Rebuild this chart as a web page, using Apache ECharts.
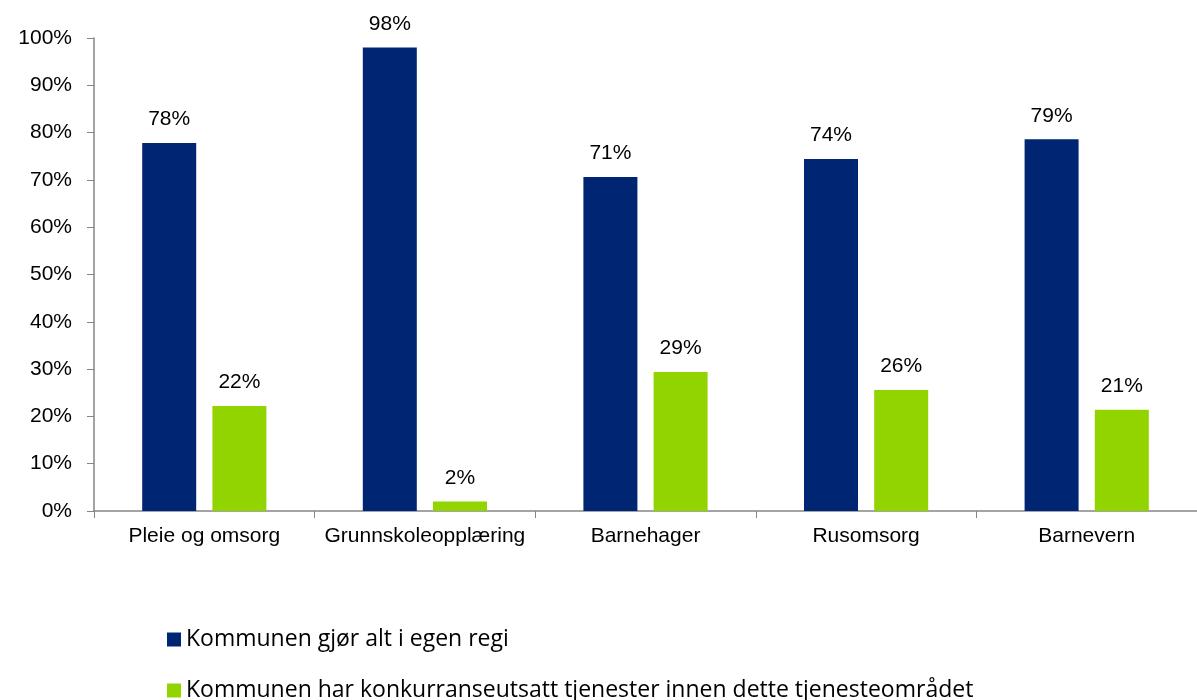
<!DOCTYPE html>
<html>
<head>
<meta charset="utf-8">
<script src="https://cdn.jsdelivr.net/npm/echarts@6/dist/echarts.min.js"></script>
<style>
  html, body { margin: 0; padding: 0; background: #fff; }
  #chart { width: 1197px; height: 700px; }
</style>
</head>
<body>
<div id="chart"></div>
<script>
// kategorier og verdier (prosent)
const categories = ['Pleie og omsorg', 'Grunnskoleopplæring', 'Barnehager', 'Rusomsorg', 'Barnevern'];
const egenRegi = [77.8, 98.0, 70.6, 74.4, 78.6];
const konkurranseutsatt = [22.2, 2.0, 29.4, 25.6, 21.4];
const seriesNames = [
  'Kommunen gjør alt i egen regi',
  'Kommunen har konkurranseutsatt tjenester innen dette tjenesteområdet'
];

const chart = echarts.init(document.getElementById('chart'));

const axisFont = 'Liberation Sans, Arial, sans-serif';

const labelStyle = {
  show: true,
  position: 'top',
  distance: 13,
  color: '#000',
  fontFamily: axisFont,
  fontSize: 21,
  formatter: p => Math.round(p.value) + '%'
};

// en legend per rad
const legendBase = {
  left: 162,
  itemWidth: 14,
  itemHeight: 14,
  icon: 'rect',
  textStyle: { fontFamily: 'Open Sans, Noto Sans, sans-serif', fontSize: 23, color: '#000' }
};

const option = {
  animation: false,
  grid: { left: 94, right: 0, top: 38, bottom: 189 },
  legend: [
    Object.assign({}, legendBase, { top: 623, data: [seriesNames[0]] }),
    Object.assign({}, legendBase, { top: 674, data: [seriesNames[1]] })
  ],
  xAxis: {
    type: 'category',
    data: categories,
    axisLine: { lineStyle: { color: '#868686', width: 1.5 } },
    axisTick: { show: true, length: 7, alignWithLabel: false, lineStyle: { color: '#868686' } },
    axisLabel: { color: '#000', fontFamily: axisFont, fontSize: 21, margin: 15, interval: 0 }
  },
  yAxis: {
    type: 'value',
    min: 0,
    max: 100,
    interval: 10,
    axisLine: { show: true, lineStyle: { color: '#868686', width: 1.5 } },
    axisTick: { show: true, length: 7, lineStyle: { color: '#868686' } },
    splitLine: { show: false },
    axisLabel: {
      color: '#000',
      fontFamily: axisFont,
      fontSize: 21,
      margin: 22,
      formatter: '{value}%'
    }
  },
  series: [
    {
      name: seriesNames[0],
      type: 'bar',
      data: egenRegi,
      barWidth: 54,
      barGap: '30%',
      itemStyle: { color: '#002673' },
      label: labelStyle
    },
    {
      name: seriesNames[1],
      type: 'bar',
      data: konkurranseutsatt,
      barWidth: 54,
      itemStyle: { color: '#92D400' },
      label: labelStyle
    }
  ]
};

chart.setOption(option);
</script>
</body>
</html>
